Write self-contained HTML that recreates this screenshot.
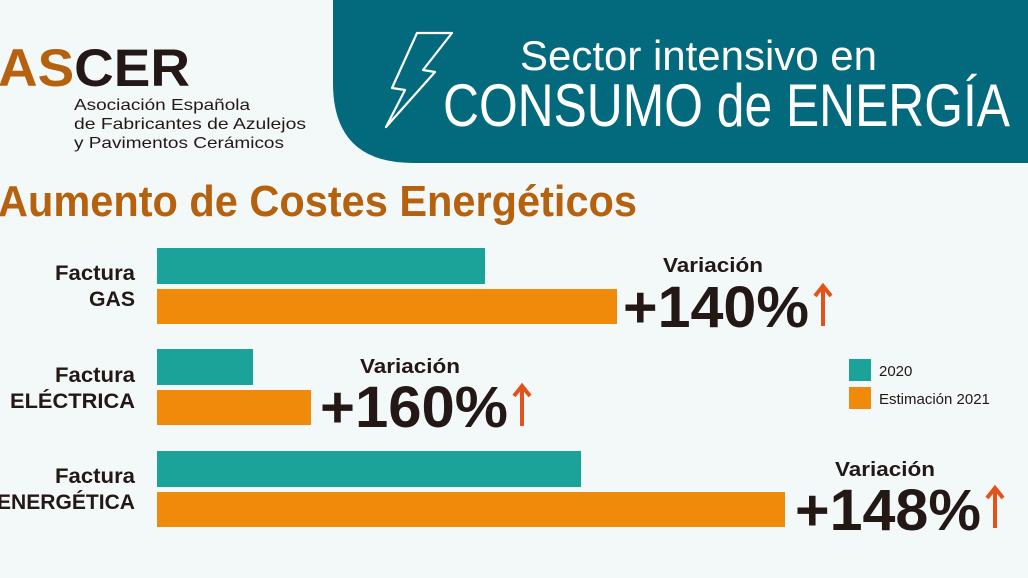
<!DOCTYPE html>
<html><head><meta charset="utf-8"><style>
html,body{margin:0;padding:0;background:#f3f8f9;}
svg{display:block;font-family:"Liberation Sans",sans-serif;}
</style></head><body>
<svg width="1028" height="578" viewBox="0 0 1028 578" xmlns="http://www.w3.org/2000/svg">
<rect width="1028" height="578" fill="#f3f8f9"/>
<path d="M333 0 H1028 V163 H413 Q333 163 333 83 Z" fill="#036a7d"/>
<path d="M417 33 L452 33 L423 70 L435 72 L386 127 L405 90 L392 88 Z" fill="none" stroke="#fff" stroke-width="2.2" stroke-linejoin="round"/>
<text x="520" y="70" fill="#fff" font-size="42" textLength="357" lengthAdjust="spacingAndGlyphs">Sector intensivo en</text>
<text x="443" y="126" fill="#fff" font-size="60" textLength="567" lengthAdjust="spacingAndGlyphs">CONSUMO de ENERGÍA</text>
<text x="-2" y="86" font-size="53" font-weight="bold" textLength="192" lengthAdjust="spacingAndGlyphs"><tspan fill="#b5610e">AS</tspan><tspan fill="#231815">CER</tspan></text>
<g fill="#231815" font-size="16">
<text x="74" y="110" textLength="176" lengthAdjust="spacingAndGlyphs">Asociación Española</text>
<text x="74" y="129" textLength="232" lengthAdjust="spacingAndGlyphs">de Fabricantes de Azulejos</text>
<text x="74" y="148" textLength="210" lengthAdjust="spacingAndGlyphs">y Pavimentos Cerámicos</text>
</g>
<text x="-2" y="216" fill="#b5610e" font-size="44" font-weight="bold" textLength="639" lengthAdjust="spacingAndGlyphs">Aumento de Costes Energéticos</text>
<g fill="#1ba39a">
<rect x="157" y="248" width="328" height="36"/>
<rect x="157" y="349" width="96" height="36"/>
<rect x="157" y="451" width="424" height="36"/>
<rect x="849" y="359" width="22" height="22"/>
</g>
<g fill="#ef8a0b">
<rect x="157" y="289" width="460" height="35"/>
<rect x="157" y="390" width="154" height="35"/>
<rect x="157" y="492" width="628" height="35"/>
<rect x="849" y="387" width="22" height="22"/>
</g>
<g fill="#231815" font-size="21" font-weight="bold">
<text x="55" y="280" textLength="80" lengthAdjust="spacingAndGlyphs">Factura</text><text x="89" y="306" textLength="46" lengthAdjust="spacingAndGlyphs">GAS</text>
<text x="55" y="382" textLength="80" lengthAdjust="spacingAndGlyphs">Factura</text><text x="10" y="408" textLength="125" lengthAdjust="spacingAndGlyphs">ELÉCTRICA</text>
<text x="55" y="483" textLength="80" lengthAdjust="spacingAndGlyphs">Factura</text><text x="-3" y="509" textLength="138" lengthAdjust="spacingAndGlyphs">ENERGÉTICA</text>
</g>
<g fill="#231815" font-size="15">
<text x="879" y="376">2020</text>
<text x="879" y="404">Estimación 2021</text>
</g>
<g fill="#231815" font-weight="bold">
<text x="663" y="272" font-size="20" textLength="100" lengthAdjust="spacingAndGlyphs">Variación</text>
<text x="623" y="327" font-size="58" textLength="186" lengthAdjust="spacingAndGlyphs">+140%</text>
<text x="360" y="373" font-size="20" textLength="100" lengthAdjust="spacingAndGlyphs">Variación</text>
<text x="320" y="427" font-size="58" textLength="188" lengthAdjust="spacingAndGlyphs">+160%</text>
<text x="835" y="476" font-size="20" textLength="100" lengthAdjust="spacingAndGlyphs">Variación</text>
<text x="795" y="530" font-size="58" textLength="186" lengthAdjust="spacingAndGlyphs">+148%</text>
</g>
<g stroke="#e4521b" stroke-width="4" fill="none">
<path d="M823 326 V287 M815 296 L823 286 L831 296"/>
<path d="M522 426 V387 M514 396 L522 386 L530 396"/>
<path d="M995 528 V489 M987 498 L995 488 L1003 498"/>
</g>
</svg>
</body></html>
